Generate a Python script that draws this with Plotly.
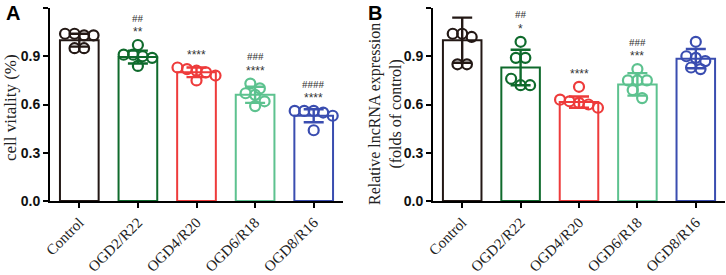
import plotly.graph_objects as go

categories = ["Control", "OGD2/R22", "OGD4/R20", "OGD6/R18", "OGD8/R16"]
colors = ["#231815", "#0f6a2c", "#ee3b3b", "#5dc28f", "#3a4db0"]

# Panel A: cell vitality
a_means = [1.00, 0.895, 0.80, 0.66, 0.53]
a_sds = [0.04, 0.04, 0.03, 0.05, 0.04]
a_points = [
    [1.04, 1.03, 1.03, 1.04, 0.95, 0.95],
    [0.97, 0.91, 0.90, 0.91, 0.89, 0.84],
    [0.83, 0.82, 0.81, 0.80, 0.78, 0.75],
    [0.73, 0.70, 0.67, 0.66, 0.62, 0.59],
    [0.56, 0.56, 0.56, 0.55, 0.53, 0.44],
]
a_stars = ["", "**", "****", "****", "****"]
a_hashes = ["", "##", "", "###", "####"]
a_title = "cell vitality (%)"

# Panel B: relative lncRNA expression
b_means = [1.00, 0.83, 0.615, 0.725, 0.885]
b_sds = [0.14, 0.11, 0.035, 0.07, 0.06]
b_points = [
    [1.04, 1.02, 1.04, 0.85, 0.85],
    [0.99, 0.89, 0.89, 0.76, 0.72, 0.72],
    [0.71, 0.63, 0.62, 0.61, 0.60, 0.58],
    [0.82, 0.75, 0.75, 0.75, 0.69, 0.64],
    [0.99, 0.90, 0.89, 0.87, 0.83, 0.82],
]
b_stars = ["", "*", "****", "***", ""]
b_hashes = ["", "##", "", "###", ""]
b_title = "Relative lncRNA expression<br>(folds of control)"

W, H = 726, 275
Y_TOP, Y_BOT = 8, 201
A_X0, A_X1 = 50, 343
B_X0, B_X1 = 433, 725
Y_MAX = 1.2
px_per_y = (Y_BOT - Y_TOP) / Y_MAX
px_per_cat = (A_X1 - A_X0) / 5.0
MARK_D = 10.0  # px


def px_to_paper(px, py):
    return px / W, (Y_BOT - py) / (Y_BOT - Y_TOP)


def swarm_offsets(vals):
    """GraphPad-like: group points of similar value into rows, spread each row evenly."""
    order = sorted(range(len(vals)), key=lambda k: -vals[k])
    bin_y = MARK_D * 0.9 / px_per_y
    groups = []
    for k in order:
        if groups and abs(vals[groups[-1][0]] - vals[k]) < bin_y:
            groups[-1].append(k)
        else:
            groups.append([k])
    offs = [0.0] * len(vals)
    step = MARK_D * 0.95 / px_per_cat
    for g in groups:
        n = len(g)
        for j, k in enumerate(g):
            offs[k] = (j - (n - 1) / 2.0) * step
    return offs


fig = go.Figure()


def add_panel(means, sds, points, stars, hashes, xa, ya):
    idx = list(range(len(categories)))
    fig.add_trace(go.Bar(
        x=idx, y=means, xaxis=xa, yaxis=ya,
        marker=dict(color="white", line=dict(color=colors, width=2)),
        width=0.66, showlegend=False, hoverinfo="skip",
    ))
    for i in idx:
        fig.add_trace(go.Scatter(
            x=[i], y=[means[i]], xaxis=xa, yaxis=ya, mode="markers",
            marker=dict(size=1, color=colors[i], opacity=0),
            error_y=dict(type="data", array=[sds[i]], visible=True, thickness=2.4, width=10, color=colors[i]),
            showlegend=False, hoverinfo="skip",
        ))
    for i in idx:
        offs = swarm_offsets(points[i])
        fig.add_trace(go.Scatter(
            x=[i + o for o in offs], y=points[i], xaxis=xa, yaxis=ya, mode="markers",
            marker=dict(symbol="circle-open", size=MARK_D, color=colors[i], line=dict(width=2.2, color=colors[i])),
            showlegend=False, hoverinfo="skip",
        ))
    for i in idx:
        base = max(points[i]) + 0.08
        if stars[i]:
            fig.add_annotation(x=i, y=base, xref=xa, yref=ya, text=stars[i], showarrow=False,
                               font=dict(family="Liberation Sans, Arial", size=12, color="#333333"))
        if hashes[i]:
            fig.add_annotation(x=i, y=base + 0.09, xref=xa, yref=ya, text=hashes[i], showarrow=False,
                               font=dict(family="Liberation Serif, Times New Roman", size=11, color="#333333"))


add_panel(a_means, a_sds, a_points, a_stars, a_hashes, "x", "y")
add_panel(b_means, b_sds, b_points, b_stars, b_hashes, "x2", "y2")

xaxis_common = dict(
    range=[-0.5, 4.5], tickmode="array", tickvals=list(range(5)), ticktext=categories,
    tickangle=-45, ticks="outside", ticklen=5, tickwidth=2, tickcolor="black",
    showline=True, linewidth=2, linecolor="black", showgrid=False, zeroline=False,
    automargin=False,
    tickfont=dict(family="Liberation Serif, Times New Roman", size=15, color="#222"),
)
yaxis_common = dict(
    range=[0, Y_MAX], tickmode="array", tickvals=[0, 0.3, 0.6, 0.9, 1.2],
    ticktext=["0.0", "0.3", "0.6", "0.9", "1.2"],
    ticks="outside", ticklen=5, tickwidth=2, tickcolor="black",
    showline=True, linewidth=2, linecolor="black", showgrid=False, zeroline=False,
    automargin=False,
    tickfont=dict(family="Liberation Sans, Arial", size=14, color="#111", weight="bold"),
)

fig.update_layout(
    width=W, height=H,
    margin=dict(l=0, r=0, t=Y_TOP, b=H - Y_BOT, autoexpand=False),
    plot_bgcolor="white", paper_bgcolor="white",
    barmode="overlay",
    xaxis=dict(domain=[A_X0 / W, A_X1 / W], anchor="y", **xaxis_common),
    xaxis2=dict(domain=[B_X0 / W, B_X1 / W], anchor="y2", **xaxis_common),
    yaxis=dict(domain=[0, 1], anchor="x", **yaxis_common),
    yaxis2=dict(domain=[0, 1], anchor="x2", **yaxis_common),
)

tx, ty = px_to_paper(10, 108)
fig.add_annotation(x=tx, y=ty, xref="paper", yref="paper", text=a_title, textangle=-90,
                   showarrow=False, xanchor="center", yanchor="middle",
                   font=dict(family="Liberation Serif, Times New Roman", size=17, color="#222"))
tx, ty = px_to_paper(386, 114)
fig.add_annotation(x=tx, y=ty, xref="paper", yref="paper", text=b_title, textangle=-90,
                   showarrow=False, xanchor="center", yanchor="middle",
                   font=dict(family="Liberation Serif, Times New Roman", size=16, color="#222"))

for lbl, px in (("A", 4), ("B", 366)):
    lx, ly = px_to_paper(px, 0)
    fig.add_annotation(x=lx, y=ly, xref="paper", yref="paper", text="<b>%s</b>" % lbl, showarrow=False,
                       xanchor="left", yanchor="top",
                       font=dict(family="Liberation Sans, Arial", size=20, color="black"))

fig.write_html("out.html", config={"responsive": False, "displayModeBar": False},
               post_script="document.body.style.margin='0px';document.body.style.overflow='hidden';")
